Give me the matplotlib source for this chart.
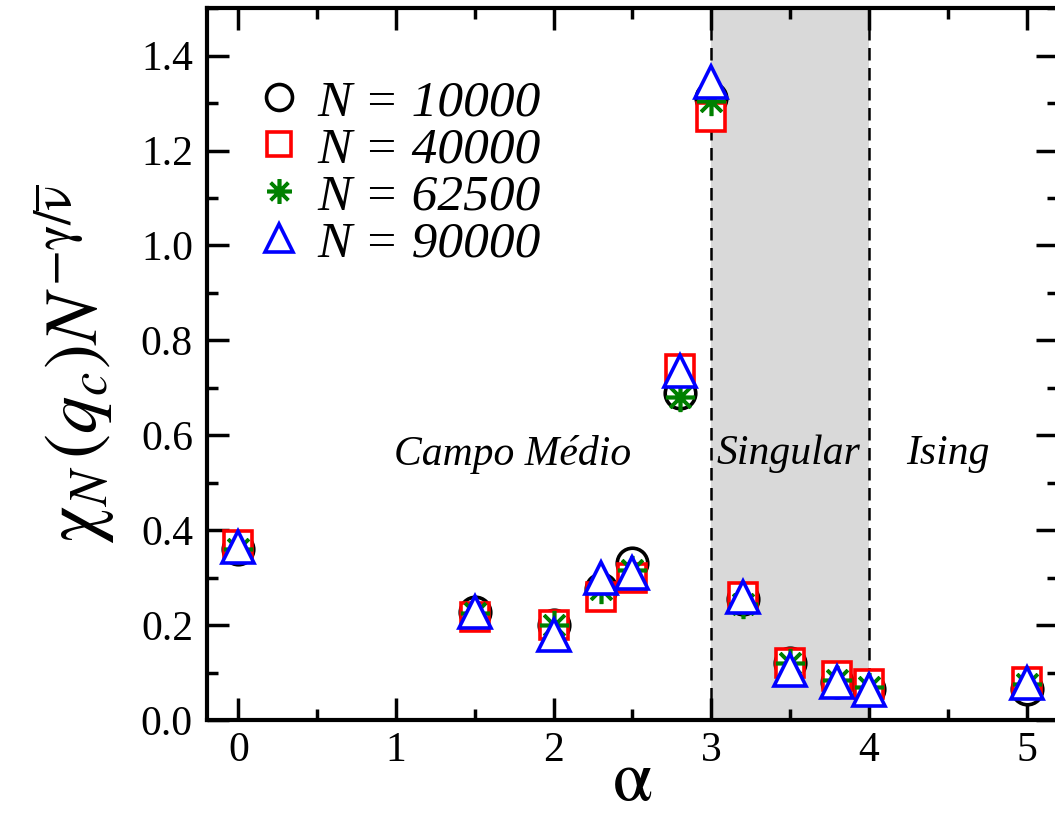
import matplotlib
matplotlib.use("Agg")
import matplotlib.pyplot as plt
from matplotlib.ticker import MultipleLocator

plt.rcParams['font.family'] = ['Liberation Serif', 'DejaVu Serif']
plt.rcParams['mathtext.fontset'] = 'stix'

alpha = [0.0, 1.5, 2.0, 2.3, 2.5, 2.8, 3.0, 3.2, 3.5, 3.8, 4.0, 5.0]
chi_10000 = [0.36, 0.228, 0.20, 0.275, 0.33, 0.69, 1.31, 0.255, 0.12, 0.08, 0.066, 0.066]
chi_40000 = [0.368, 0.217, 0.20, 0.26, 0.30, 0.74, 1.27, 0.26, 0.12, 0.093, 0.075, 0.08]
chi_62500 = [0.36, 0.225, 0.20, 0.275, 0.315, 0.68, 1.305, 0.245, 0.12, 0.085, 0.07, 0.075]
chi_90000 = [0.365, 0.228, 0.18, 0.30, 0.31, 0.735, 1.345, 0.26, 0.105, 0.08, 0.064, 0.078]
labels = ['N = 10000', 'N = 40000', 'N = 62500', 'N = 90000']
region_labels = ['Campo Médio', 'Singular', 'Ising']

fig = plt.figure(figsize=(10.55, 8.14), dpi=100)
ax = fig.add_axes([0.196, 0.1155, 0.807, 0.8745])

ax.axvspan(3, 4, color='#d9d9d9', zorder=0, lw=0)
ax.axvline(3, color='black', ls=(0, (5, 3)), lw=1.8, zorder=1)
ax.axvline(4, color='black', ls=(0, (5, 3)), lw=1.8, zorder=1)

series = [chi_10000, chi_40000, chi_62500, chi_90000]
styles = [dict(marker='o', color='black', ms=22),
          dict(marker='s', color='red', ms=20),
          dict(marker=(8, 2, 0), color='green', ms=21),
          dict(marker='^', color='blue', ms=23)]
for ys, st, lab in zip(series, styles, labels):
    ax.plot(alpha, ys, ls='none', marker=st['marker'], ms=st['ms'],
            mec=st['color'], mfc='white', mew=2.6, label=lab, zorder=3)

ax.set_xlim(-0.2, 5.2)
ax.set_ylim(0, 1.5)
ax.xaxis.set_major_locator(MultipleLocator(1))
ax.xaxis.set_minor_locator(MultipleLocator(0.5))
ax.yaxis.set_minor_locator(MultipleLocator(0.1))
ax.set_yticks([0, 0.2, 0.4, 0.6, 0.8, 1.0, 1.2, 1.4])
ax.set_yticklabels(['0.0', '0.2', '0.4', '0.6', '0.8', '1.0', '1.2', '1.4'])
ax.tick_params(which='both', direction='in', top=True, right=True, labelsize=30, width=2.5)
ax.tick_params(axis='y', pad=10)
ax.tick_params(axis='x', pad=8)
ax.tick_params(which='major', length=16)
ax.tick_params(which='minor', length=8)
for s in ax.spines.values():
    s.set_linewidth(3)

ax.set_xlabel(r'$\mathrm{\alpha}$', fontsize=52, labelpad=-14)
ax.set_ylabel(r'$\mathrm{\chi}_N\,(q_c)N^{-\mathrm{\gamma}/\overline{\mathrm{\nu}}}$', fontsize=54, labelpad=0)
ax.yaxis.set_label_coords(-0.105, 0.5)

ax.text(1.74, 0.56, region_labels[0], style='italic', fontsize=30, ha='center', va='center')
ax.text(3.49, 0.56, region_labels[1], style='italic', fontsize=30, ha='center', va='center')
ax.text(4.5, 0.56, region_labels[2], style='italic', fontsize=30, ha='center', va='center')

leg = ax.legend(loc='upper left', bbox_to_anchor=(0.0, 0.965), frameon=False,
                prop={'style': 'italic', 'size': 37}, handletextpad=0.25,
                labelspacing=0.0, markerscale=0.85, handlelength=1.0)

fig.savefig('out.png', dpi=100)
